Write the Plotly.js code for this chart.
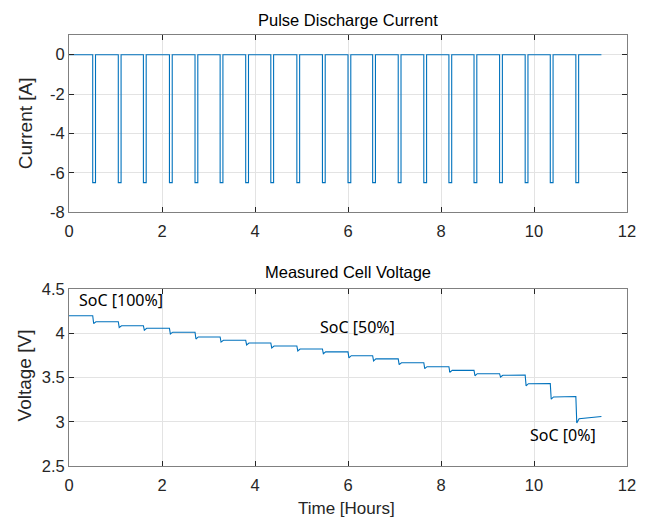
<!DOCTYPE html>
<html>
<head>
<meta charset="utf-8">
<script src="https://cdn.plot.ly/plotly-3.0.1.min.js"></script>
<style>html,body{margin:0;padding:0;background:#fff;}#chart{width:649px;height:519px;}</style>
</head>
<body>
<div id="chart"></div>
<script>
// ---- data ----
const pulseStart = [0.51, 1.06, 1.60, 2.16, 2.71, 3.25, 3.80, 4.34, 4.90, 5.45,
                    6.00, 6.53, 7.08, 7.63, 8.17, 8.71, 9.26, 9.81, 10.35, 10.90];
const pulseWidth = 0.06;        // hours
const pulseCurrent = -6.5;      // A
const restCurrent = 0;          // A
const endTime = 11.45;          // hours

// voltage plateau at start / end of each rest period (21 periods)
const levelStart = [4.198, 4.130, 4.085, 4.056, 4.012, 3.958, 3.920, 3.890, 3.856, 3.822,
                    3.790, 3.746, 3.710, 3.667, 3.622, 3.580, 3.543, 3.525, 3.430, 3.280, 3.035];
const levelEnd   = [4.198, 4.130, 4.085, 4.056, 4.012, 3.958, 3.920, 3.890, 3.856, 3.822,
                    3.790, 3.746, 3.710, 3.667, 3.622, 3.580, 3.543, 3.528, 3.432, 3.285, 3.060];
// lowest voltage reached at each pulse
const dipLevel   = [4.110, 4.065, 4.035, 3.992, 3.935, 3.900, 3.868, 3.834, 3.800, 3.768,
                    3.722, 3.688, 3.645, 3.600, 3.558, 3.520, 3.505, 3.405, 3.255, 2.985];

const xTicks = [0, 2, 4, 6, 8, 10, 12];
const yTicksI = [0, -2, -4, -6, -8];
const yTickTextI = ['0', '-2', '-4', '-6', '-8'];
const yTicksV = [2.5, 3, 3.5, 4, 4.5];
const yTickTextV = ['2.5', '3', '3.5', '4', '4.5'];

// ---- build step traces ----
const tI = [0], I = [restCurrent];
pulseStart.forEach(t => {
  tI.push(t, t, t + pulseWidth, t + pulseWidth);
  I.push(restCurrent, pulseCurrent, pulseCurrent, restCurrent);
});
tI.push(endTime); I.push(restCurrent);

const tV = [0], V = [levelStart[0]];
pulseStart.forEach((t, i) => {
  tV.push(t, t + 0.02, t + 0.07);
  V.push(levelEnd[i], dipLevel[i], levelStart[i + 1]);
});
tV.push(endTime); V.push(levelEnd[levelEnd.length - 1]);

const lineColor = '#0072BD';
const traces = [
  {x: tI, y: I, type: 'scatter', mode: 'lines', line: {color: lineColor, width: 1.1}, xaxis: 'x', yaxis: 'y', hoverinfo: 'skip'},
  {x: tV, y: V, type: 'scatter', mode: 'lines', line: {color: lineColor, width: 1.1}, xaxis: 'x2', yaxis: 'y2', hoverinfo: 'skip'}
];

const regular = 'Liberation Sans, Arial, sans-serif';
const axisFont = {family: regular, size: 16.5, color: '#262626'};
const baseAxis = {
  showline: true, linecolor: '#808080', linewidth: 1, mirror: 'ticks',
  ticks: 'inside', ticklen: 5, tickcolor: '#262626', tickwidth: 1,
  showgrid: true, gridcolor: '#e3e3e3', gridwidth: 1, zeroline: false,
  tickfont: axisFont, fixedrange: true
};

const annFont = {family: 'Noto Sans, Open Sans, sans-serif', size: 16, color: '#000'};
const layout = {
  width: 649, height: 519,
  margin: {l: 69, r: 22, t: 35, b: 53},
  paper_bgcolor: '#fff', plot_bgcolor: '#fff',
  showlegend: false,
  xaxis: Object.assign({}, baseAxis, {domain: [0, 1], anchor: 'y', range: [0, 12], tickvals: xTicks, ticklabelstandoff: 4}),
  yaxis: Object.assign({}, baseAxis, {domain: [0.589, 1], anchor: 'x', range: [-8, 1], tickvals: yTicksI, ticktext: yTickTextI}),
  xaxis2: Object.assign({}, baseAxis, {domain: [0, 1], anchor: 'y2', range: [0, 12], tickvals: xTicks, ticklabelstandoff: 4}),
  yaxis2: Object.assign({}, baseAxis, {domain: [0, 0.4107], anchor: 'x2', range: [2.5, 4.5], tickvals: yTicksV, ticktext: yTickTextV}),
  annotations: [
    {text: 'Pulse Discharge Current', xref: 'paper', yref: 'paper', x: 0.5, y: 1.035, xanchor: 'center', yanchor: 'middle', showarrow: false, font: {family: regular, size: 16.5, color: '#000'}},
    {text: 'Measured Cell Voltage', xref: 'paper', yref: 'paper', x: 0.5, y: 0.450, xanchor: 'center', yanchor: 'middle', showarrow: false, font: {family: regular, size: 16.5, color: '#000'}},
    {text: 'Current [A]', xref: 'paper', yref: 'paper', x: -0.0789, y: 0.795, xanchor: 'center', yanchor: 'middle', textangle: -90, showarrow: false, font: {family: regular, size: 19, color: '#262626'}},
    {text: 'Voltage [V]', xref: 'paper', yref: 'paper', x: -0.0789, y: 0.21, xanchor: 'center', yanchor: 'middle', textangle: -90, showarrow: false, font: {family: regular, size: 19, color: '#262626'}},
    {text: 'Time [Hours]', xref: 'paper', yref: 'paper', x: 0.498, y: -0.098, xanchor: 'center', yanchor: 'middle', showarrow: false, font: {family: regular, size: 17, color: '#262626'}},
    {text: 'SoC [100%]', xref: 'x2', yref: 'y2', x: 0.17, y: 4.376, xanchor: 'left', yanchor: 'middle', showarrow: false, font: annFont},
    {text: 'SoC [50%]', xref: 'x2', yref: 'y2', x: 5.35, y: 4.07, xanchor: 'left', yanchor: 'middle', showarrow: false, font: annFont},
    {text: 'SoC [0%]', xref: 'x2', yref: 'y2', x: 9.87, y: 2.85, xanchor: 'left', yanchor: 'middle', showarrow: false, font: annFont}
  ]
};

Plotly.newPlot('chart', traces, layout, {staticPlot: true, displayModeBar: false});
</script>
</body>
</html>
